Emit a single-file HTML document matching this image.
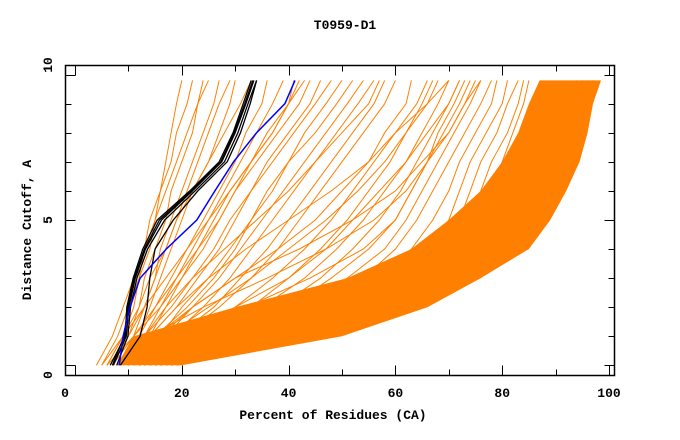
<!DOCTYPE html>
<html><head><meta charset="utf-8"><style>
html,body{margin:0;padding:0;background:#fff}
svg{display:block}
text{font-family:"Liberation Mono",monospace;font-weight:bold;font-size:13px;fill:#000}
</style></head><body>
<svg id="chart" width="680" height="440" xmlns="http://www.w3.org/2000/svg">
<text x="345" y="29" text-anchor="middle">T0959-D1</text>
<text x="333" y="419" text-anchor="middle">Percent of Residues (CA)</text>
<text transform="translate(31,230) rotate(-90)" text-anchor="middle">Distance Cutoff, A</text>
<g id="marks"></g>
<g id="axes"></g>
</svg>
<script>
const yLevels = [0,1,2,3,4,5,6,7,8,9,9.8];
const xTicks = [0,20,40,60,80,100];
const yTickLabels = ["0","5","10"];
const bandLower = [20,50,66,76,85,89,92,94.5,96,97,98.5];
const bandUpper = [8,11,30,51,63,70,76,80,83,85,87];
const orangeSeries = [
[5,8,10,12,14,15,16,17,18,19,20],
[6,9,11,12,13,14,16,18,19,21,22],
[7,10,12,13,15,17,18,20,22,23,24],
[4,7,9,11,13,15,17,19,21,23,25],
[8,11,13,15,16,18,20,22,24,26,27],
[6,9,12,14,17,19,21,23,25,27,29],
[9,12,14,16,18,20,22,25,27,29,30],
[7,10,13,15,17,19,22,25,28,31,33],
[8,12,15,18,21,24,27,30,32,35,36],
[9,13,16,19,22,25,28,31,34,37,39],
[10,14,17,20,24,27,30,33,37,40,42],
[7,11,15,19,23,27,30,34,38,42,44],
[10,14,19,23,27,30,33,36,40,44,46],
[9,13,18,22,26,29,33,37,41,45,48],
[11,16,20,25,29,33,37,40,43,47,50],
[10,15,21,26,30,33,36,40,45,49,52],
[12,17,22,27,31,35,39,43,47,51,54],
[11,18,24,29,33,37,41,45,49,53,56],
[12,19,26,31,36,40,44,48,52,56,58],
[13,20,27,33,38,42,46,50,54,58,60],
[13,22,30,37,43,48,52,56,60,64,66],
[14,24,33,40,46,51,55,59,62,65,67],
[14,25,35,43,49,54,58,62,65,68,70],
[15,27,38,46,52,57,61,64,67,70,72],
[15,28,40,48,55,60,63,66,69,72,74],
[16,30,42,51,58,62,65,68,71,74,76],
[16,32,45,54,60,64,67,70,73,76,78],
[17,34,48,57,63,67,70,72,75,78,79],
[17,36,51,60,66,70,72,74,77,80,81],
[18,38,54,63,68,72,74,76,79,81,83],
[18,40,56,65,70,74,76,78,81,83,84],
[19,42,58,67,73,76,78,80,82,84,85],
[10,18,38,56,66,73,78,82,85,88,90],
[9,16,34,52,64,72,77,81,84,86,88],
[6,11,16,20,23,26,29,33,36,40,43],
[5,9,13,17,21,25,29,33,37,40,41],
[8,13,17,22,28,34,40,45,50,55,57],
[9,15,22,30,38,45,50,55,58,62,63],
[11,17,25,33,40,47,53,58,62,66,68],
[12,20,30,40,47,52,57,62,66,70,72],
[9,14,19,25,32,40,48,55,60,66,70],
[10,16,22,30,42,52,60,65,70,73,76],
[12,22,40,55,66,74,80,84,87,90,92],
[13,25,44,60,70,77,83,86,89,92,94],
[14,30,50,64,74,80,85,88,91,94,95],
[15,34,55,68,78,84,88,91,93,95,96],
[16,40,60,72,81,86,90,93,95,96,97],
[12,28,47,62,72,79,84,87,90,93,94],
[11,24,42,58,69,76,82,86,89,91,93],
[8,14,24,36,47,56,62,66,70,73,75],
[10,20,32,44,54,60,63,66,68,71,73]
];
const blackSeries = [
[6.6,9.4,9.7,10.9,12.7,15.4,21.5,27,29.6,31.5,33],
[7.2,9.6,10.1,11.3,13.2,16.2,22,27.5,30,32,33.5],
[7.8,9.9,10.4,11.6,13.6,16.8,22.5,28,30.5,32.4,34],
[7.0,9.2,9.9,11.1,13,15.8,21.8,27.3,29.8,31.8,33.3],
[8.5,12.2,13.5,14,15,18.4,23,28.5,31,32.8,34]
];
const blueSeries = [8.3,9,10.3,12.2,17.1,22.8,26.2,29.7,34,39.3,41.2];

const NS="http://www.w3.org/2000/svg";
const px = x => 75 + 5.34*x;
const py = y => 365.3 - 29.07*y;
const marks = document.getElementById('marks');
const axes = document.getElementById('axes');
function pathFrom(arr){ return arr.map((v,i)=>(i?'L':'M')+px(v).toFixed(1)+','+py(yLevels[i]).toFixed(1)).join(''); }

const band = document.createElementNS(NS,'path');


let d = pathFrom(bandLower);
for(let i=bandUpper.length-1;i>=0;i--) d += 'L'+px(bandUpper[i]).toFixed(1)+','+py(yLevels[i]).toFixed(1);
band.setAttribute('d', d+'Z');
band.setAttribute('fill', '#ff8000');
marks.appendChild(band);

orangeSeries.forEach(s=>{
  const p=document.createElementNS(NS,'path');
  
  
  p.setAttribute('d', pathFrom(s));
  p.setAttribute('fill','none'); p.setAttribute('stroke','#ff8000'); p.setAttribute('stroke-width','1');
  marks.appendChild(p);
});
blackSeries.forEach(s=>{
  const p=document.createElementNS(NS,'path');
  
  
  p.setAttribute('d', pathFrom(s));
  p.setAttribute('fill','none'); p.setAttribute('stroke','#000'); p.setAttribute('stroke-width','1.3');
  marks.appendChild(p);
});
{
  const p=document.createElementNS(NS,'path');
  
  
  p.setAttribute('d', pathFrom(blueSeries));
  p.setAttribute('fill','none'); p.setAttribute('stroke','#0000ff'); p.setAttribute('stroke-width','1.5');
  marks.appendChild(p);
}

function line(x1,y1,x2,y2,w){
  const l=document.createElementNS(NS,'line');
  
  
  l.setAttribute('x1',x1);l.setAttribute('y1',y1);l.setAttribute('x2',x2);l.setAttribute('y2',y2);
  l.setAttribute('stroke','#000');l.setAttribute('stroke-width',w||1);
  axes.appendChild(l);
}
const L=65.5,R=614.5,T=65.5,B=375.5;
for(let v=0;v<=100;v+=10){
  const x=Math.round(px(v))+0.5, len = v%20===0?10:6;
  line(x,B,x,B-len); line(x,T,x,T+len);
}
for(let k=0;k<=10;k++){
  const y=Math.round(py(k))+0.5, len = k%5===0?10:6;
  line(L,y,L+len,y); line(R,y,R-len,y);
}
const frame=document.createElementNS(NS,'rect');


frame.setAttribute('x',L);frame.setAttribute('y',T);frame.setAttribute('width',R-L);frame.setAttribute('height',B-T);
frame.setAttribute('fill','none');frame.setAttribute('stroke','#000');frame.setAttribute('stroke-width','1.5');
axes.appendChild(frame);
xTicks.forEach(v=>{
  const t=document.createElementNS(NS,'text');
  
  
  t.setAttribute('x', v===0?65:px(v)); t.setAttribute('y',397); t.setAttribute('text-anchor','middle');
  t.textContent=String(v); axes.appendChild(t);
});
const yLabelPos=[375,220,65];
yTickLabels.forEach((s,i)=>{
  const t=document.createElementNS(NS,'text');
  
  
  t.setAttribute('transform','translate(52,'+yLabelPos[i]+') rotate(-90)'); t.setAttribute('text-anchor','middle');
  t.textContent=s; axes.appendChild(t);
});
</script>
</body></html>
